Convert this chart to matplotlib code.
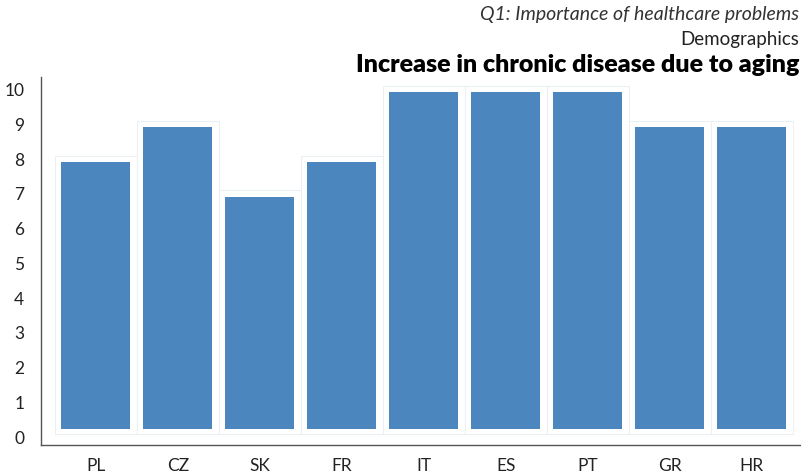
import matplotlib.pyplot as plt
import numpy as np

countries = ['PL', 'CZ', 'SK', 'FR', 'IT', 'ES', 'PT', 'GR', 'HR']
scores = [8, 9, 7, 8, 10, 10, 10, 9, 9]
yticks = list(range(0, 11))

plt.rcParams['font.family'] = ['Lato', 'DejaVu Sans']

fig = plt.figure(figsize=(8.01, 4.74), dpi=100)
ax = fig.add_axes([0.051, 0.061, 0.949, 0.777])

x = np.arange(len(countries))
vals = np.array(scores, dtype=float)

# faint outline box behind each bar
ax.bar(x, vals + 0.01, bottom=0.09, width=1.0, color='white',
       edgecolor='#eceff4', linewidth=0.8)
# the blue bar itself, inset a bit
ax.bar(x, vals - 0.31, bottom=0.23, width=0.84, color='#4b86bf',
       edgecolor='none')

ax.set_xlim(-0.67, 8.6)
ax.set_ylim(-0.23, 10.37)
ax.set_xticks(x)
ax.set_xticklabels(countries, fontsize=12.5, color='#222222')
ax.set_yticks(yticks)
ax.set_yticklabels([str(t) for t in yticks], fontsize=12.5, color='#222222')
ax.tick_params(length=0, pad=12)
ax.tick_params(axis='x', pad=9)

for s in ['top', 'right']:
    ax.spines[s].set_visible(False)
for s in ['left', 'bottom']:
    ax.spines[s].set_color('#555555')
    ax.spines[s].set_linewidth(1.0)

fig.text(0.998, 0.97, 'Q1: Importance of healthcare problems', ha='right',
         va='center', fontsize=14, style='italic', color='#333333')
fig.text(0.998, 0.916, 'Demographics', ha='right', va='center',
         fontsize=13.5, color='#222222')
fig.text(0.998, 0.863, 'Increase in chronic disease due to aging', ha='right',
         va='center', fontsize=18, fontweight='heavy', color='black')

fig.savefig('out.png', dpi=100)
